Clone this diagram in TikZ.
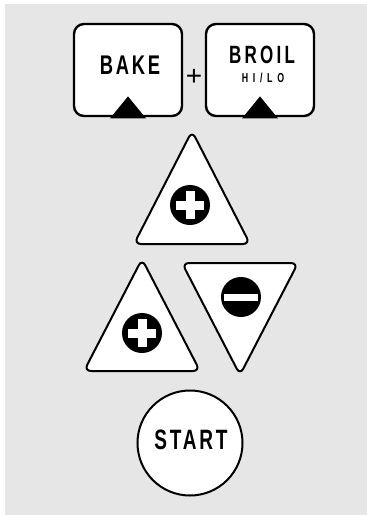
\documentclass[tikz,border=0pt]{standalone}
\usepackage{fontspec}
\newfontfamily\keyfont[FakeStretch=0.68,LetterSpace=10]{Liberation Sans}
\newfontfamily\plainfont{Liberation Sans}
\usetikzlibrary{positioning,calc}
\definecolor{panelgray}{HTML}{E6E6E6}

\begin{document}
\begin{tikzpicture}[x=1pt, y=-1pt,
    keybox/.style={draw, line width=2.4pt, fill=white, rounded corners=10pt, minimum width=108pt, minimum height=92pt, inner sep=0pt},
    keylabel/.style={font=\keyfont\bfseries\fontsize{27}{27}\selectfont, inner sep=0pt},
    padkey/.style={draw, line width=2pt, fill=white, rounded corners=7pt, line join=round},
    sign/.style={circle, fill=black, minimum size=40pt, inner sep=0pt},
    startkey/.style={circle, draw, line width=2pt, fill=white, minimum size=105pt, inner sep=0pt},
]

\useasboundingbox (0,0) rectangle (367,515);
\fill[panelgray] (5,4) rectangle (367,515);

% Mode keys
\node[keybox] (bake) at (128,70) {};
\node[keybox] (broil) at (260,70) {};
\node[keylabel] (bakelbl) at (130,65) {BAKE};
\node[keylabel, font=\keyfont\bfseries\fontsize{25}{25}\selectfont\addfontfeatures{LetterSpace=13}] (broillbl) at (262,55) {BROIL};
\node[keylabel, font=\keyfont\bfseries\fontsize{13}{13}\selectfont\addfontfeatures{LetterSpace=36}] (hilolbl) at (263,78) {HI/LO};
\node[inner sep=0pt, font=\plainfont\fontsize{28}{28}\selectfont] (plus) at (194,77) {+};

% notches
\fill ($(bake.south)+(-18,1.2)$) -- ++(18,-22) -- ++(18,22) -- cycle;
\fill ($(broil.south)+(-18,1.2)$) -- ++(18,-22) -- ++(18,22) -- cycle;

% Up / down keys
\draw[padkey] (192,131) -- (250,244) -- (134,244) -- cycle;
\draw[padkey] (142,259) -- (200,371) -- (84,371) -- cycle;
\draw[padkey] (182,263) -- (298,263) -- (240,375) -- cycle;

\node[sign] (upbig) at (190,205) {};
\node[sign] (upsmall) at (142,333) {};
\node[sign] (down) at (241,297) {};
\foreach \s in {upbig, upsmall}{
  \fill[white] ($(\s)+(-14,-4.5)$) rectangle ($(\s)+(14,4.5)$);
  \fill[white] ($(\s)+(-4.5,-14)$) rectangle ($(\s)+(4.5,14)$);
}
\fill[white] ($(down)+(-17,-3.5)$) rectangle ($(down)+(17,3.5)$);

% Start
\node[startkey] (start) at (190,443) {};
\node[keylabel, font=\keyfont\bfseries\fontsize{28}{28}\selectfont] (startlbl) at (191,440) {START};

\end{tikzpicture}
\end{document}
